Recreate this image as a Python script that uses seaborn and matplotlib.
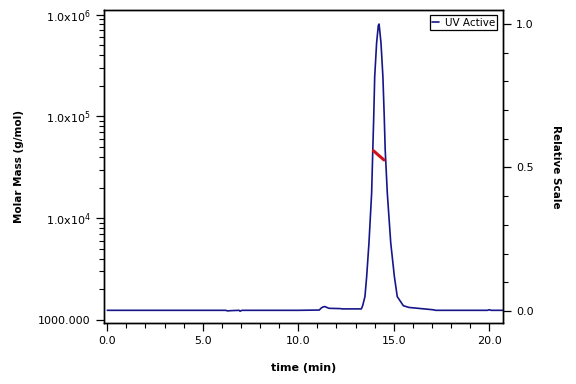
import numpy as np
import pandas as pd
import matplotlib
matplotlib.use("Agg")
import matplotlib.pyplot as plt
import seaborn as sns
from matplotlib.ticker import FixedLocator, MultipleLocator, LogLocator, NullFormatter

# UV trace (relative scale)
uv_time = [0.0, 2.0, 4.0, 6.0, 6.2, 6.3, 6.5, 6.9, 6.95, 7.05, 8.0, 10.0, 11.1,
           11.2, 11.3, 11.4, 11.5, 11.6, 12.2, 12.3, 13.3,
           13.37, 13.49, 13.58, 13.70, 13.84, 13.90, 13.95, 14.00, 14.10, 14.19,
           14.23, 14.33, 14.43, 14.50, 14.55, 14.66, 14.84, 15.03, 15.18, 15.50,
           15.8, 16.27, 17.05, 17.2, 18.0, 19.0, 19.9, 20.0, 20.1, 20.7]
uv_rel = [0.002, 0.002, 0.002, 0.002, 0.002, 0.0, 0.001, 0.002, -0.001, 0.002, 0.002, 0.002, 0.003,
          0.010, 0.014, 0.015, 0.012, 0.009, 0.008, 0.007, 0.007,
          0.018, 0.050, 0.120, 0.237, 0.411, 0.561, 0.677, 0.816, 0.934, 0.995,
          1.0, 0.934, 0.816, 0.677, 0.561, 0.411, 0.237, 0.120, 0.050, 0.018,
          0.012, 0.009, 0.004, 0.002, 0.002, 0.002, 0.002, 0.004, 0.002, 0.002]

# molar mass across the peak (g/mol)
mm_time = [13.93, 14.05, 14.20, 14.35, 14.49]
molar_mass = [46000, 44000, 41500, 39300, 37300]

uv = pd.DataFrame({"time": uv_time, "rel": uv_rel})
mm = pd.DataFrame({"time": mm_time, "mass": molar_mass})

sns.set_style("ticks")
plt.rcParams["font.family"] = ["DejaVu Sans"]
plt.rcParams["text.color"] = "black"
plt.rcParams["axes.labelcolor"] = "black"
plt.rcParams["xtick.color"] = "black"
plt.rcParams["ytick.color"] = "black"

fig, ax = plt.subplots(figsize=(5.76, 3.84), dpi=100)
fig.subplots_adjust(left=0.1806, right=0.8727, top=0.974, bottom=0.159)
ax2 = ax.twinx()

sns.lineplot(data=uv, x="time", y="rel", ax=ax2, color="#16168a", linewidth=1.2,
             label="UV Active", legend=False)
sns.lineplot(data=mm, x="time", y="mass", ax=ax, color="#d0101a", linewidth=2.2)

# molar mass axis on top of the UV axis
ax.set_zorder(ax2.get_zorder() + 1)
ax.patch.set_visible(False)

ax.set_yscale("log")
ax.set_ylim(934, 1.11e6)
ax.set_xlim(-0.17, 20.7)
ax2.set_ylim(-0.042, 1.049)

ax.yaxis.set_major_locator(FixedLocator([1e3, 1e4, 1e5, 1e6]))
ax.set_yticklabels(["1000.000", r"1.0x10$^{4}$", r"1.0x10$^{5}$", r"1.0x10$^{6}$"])
ax.yaxis.set_minor_locator(LogLocator(base=10, subs=np.arange(2, 10)))
ax.yaxis.set_minor_formatter(NullFormatter())

ax.xaxis.set_major_locator(MultipleLocator(5))
ax.xaxis.set_minor_locator(MultipleLocator(1))
ax.xaxis.set_major_formatter(matplotlib.ticker.FormatStrFormatter("%.1f"))

ax2.yaxis.set_major_locator(MultipleLocator(0.5))
ax2.yaxis.set_minor_locator(MultipleLocator(0.1))
ax2.yaxis.set_major_formatter(matplotlib.ticker.FormatStrFormatter("%.1f"))

for a in (ax, ax2):
    a.tick_params(which="major", direction="out", length=6, width=0.9, labelsize=8,
                  colors="black", labelcolor="black")
    a.tick_params(which="minor", direction="out", length=3.5, width=0.8, colors="black")
    for s in a.spines.values():
        s.set_visible(True)
        s.set_linewidth(1.0)
        s.set_color("black")

ax.set_xlabel("time (min)", fontsize=8, fontweight="bold", labelpad=12, color="black")
ax.set_ylabel("Molar Mass (g/mol)", fontsize=7.5, fontweight="bold", labelpad=10, color="black")
ax2.set_ylabel("Relative Scale", fontsize=7.5, fontweight="bold", rotation=-90,
               labelpad=20, color="black")

handles, labels = ax2.get_legend_handles_labels()
leg = ax.legend(handles, labels, loc="upper right", fontsize=7.5, frameon=True,
                fancybox=False, edgecolor="black", framealpha=1, handlelength=0.7,
                handletextpad=0.5, borderpad=0.25, borderaxespad=0.5)
leg.get_frame().set_linewidth(0.9)
for t in leg.get_texts():
    t.set_color("black")

fig.savefig("out.png", dpi=100)
